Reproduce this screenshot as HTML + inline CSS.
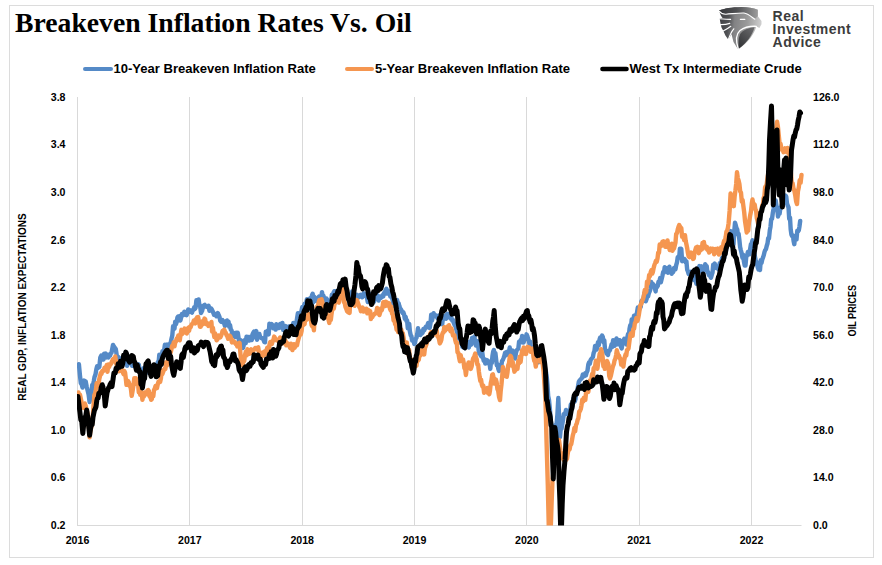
<!DOCTYPE html>
<html><head><meta charset="utf-8"><style>
html,body{margin:0;padding:0;background:#fff;}
svg{display:block;}
text{font-family:"Liberation Sans",sans-serif;font-weight:bold;}
</style></head><body>
<svg width="882" height="565" viewBox="0 0 882 565">
<defs>
<linearGradient id="lg1" gradientUnits="userSpaceOnUse" x1="719" y1="20" x2="762" y2="24">
<stop offset="0" stop-color="#3f4044"/><stop offset="0.22" stop-color="#505154"/><stop offset="0.36" stop-color="#828284"/><stop offset="0.65" stop-color="#9a9a9a"/><stop offset="1" stop-color="#d2d2d2"/>
</linearGradient>
<linearGradient id="lg3" gradientUnits="userSpaceOnUse" x1="719" y1="10" x2="758" y2="12">
<stop offset="0" stop-color="#35363a"/><stop offset="0.45" stop-color="#4e4f52"/><stop offset="1" stop-color="#9c9c9c"/>
</linearGradient>
<linearGradient id="lg2" gradientUnits="userSpaceOnUse" x1="739" y1="45" x2="755" y2="28">
<stop offset="0" stop-color="#36373a"/><stop offset="1" stop-color="#6c6c6e"/>
</linearGradient>
<clipPath id="plotclip"><rect x="77" y="90" width="805" height="435.6"/></clipPath>
</defs>
<rect x="9.5" y="5.5" width="864" height="552" fill="#fff" stroke="#dcdcdc" stroke-width="1"/>
<text x="15" y="32" style="font-family:'Liberation Serif',serif;font-weight:bold;font-size:27.7px" fill="#000">Breakeven Inflation Rates Vs. Oil</text>
<!-- logo -->
<g>
<path d="M719.2,10.4 C724,8.6 732,7.2 741.5,7 C748,7 753,8 757.8,9.8 L757.8,16.2 L761.5,21 L761.5,24.2 L759.4,27.9 L756.2,26.3 C755,33 748,43 738,49.3 L733.5,42 L731.5,34 L728.4,39.8 L725.4,35.4 L723.4,30.9 L721.5,27.5 L720.5,23.5 L719.8,19.3 L719.4,18.6 L722.6,18.1 C721,16 719.8,13.5 719.2,10.4 Z" fill="url(#lg1)"/>
<path d="M719.2,10.4 C724,8.6 732,7.2 741.5,7 C748,7 753,8 757.8,9.8 L757.8,16.2 C756,17.6 755.5,18.5 754.6,19 C751,16.5 748,13.5 744,13 C738,12.8 731,14 726,14.2 C723,14.3 721,13.5 719.4,11.2 Z" fill="url(#lg3)"/>
<g fill="none" stroke="#fff" stroke-width="1.15" stroke-linecap="round">
<path d="M719.4,11.4 C721,13.5 723,14.3 726,14.2 C731,14 738,12.8 744,13 C748,13.5 751,16.5 754.8,19.2"/>
<path d="M718.8,18.7 C723,19 727,19.3 730.6,19.4"/>
<path d="M720,24.6 C724,24.7 727,24.3 729.8,23.4"/>
<path d="M722.3,31.6 C725,30.2 728,28.5 730.8,26.3"/>
<path d="M728,40.6 C729.5,36 731,32 733.8,28.8"/>
<path d="M756.4,26.3 C751,26 744,27.5 740,30.5 C736,34 735.4,40 738.3,49" stroke-width="1.3"/>
<path d="M740.4,19.4 L744.8,19.4" stroke-width="1.2"/>
</g>
<path d="M754.6,27.2 C748,27.6 742.5,30.5 740.2,34 C738.2,38 738.2,44 739,48.6 C746,43 752,36 754.6,27.2 Z" fill="url(#lg2)"/>
</g>
<g fill="#3c3c3c" style="font-size:14px;letter-spacing:0.45px">
<text x="772.6" y="20.6">Real</text>
<text x="772.6" y="34.1">Investment</text>
<text x="772.6" y="47.1">Advice</text>
</g>
<!-- legend -->
<g stroke-width="4" stroke-linecap="round">
<line x1="85" y1="69" x2="111" y2="69" stroke="#558ac7"/>
<line x1="347" y1="69" x2="372" y2="69" stroke="#f59650"/>
<line x1="602.5" y1="69" x2="626.5" y2="69" stroke="#000" stroke-width="4.6"/>
</g>
<g style="font-size:13.05px" fill="#000">
<text x="113.5" y="72.8">10-Year Breakeven Inflation Rate</text>
<text x="375" y="72.8">5-Year Breakeven Inflation Rate</text>
<text x="629.5" y="72.8">West Tx Intermediate Crude</text>
</g>
<!-- grid -->
<g stroke="#d9d9d9" stroke-width="1"><line x1="77.5" y1="97" x2="77.5" y2="525" /><line x1="189.5" y1="97" x2="189.5" y2="525" /><line x1="302.5" y1="97" x2="302.5" y2="525" /><line x1="414.5" y1="97" x2="414.5" y2="525" /><line x1="526.5" y1="97" x2="526.5" y2="525" /><line x1="639.5" y1="97" x2="639.5" y2="525" /><line x1="751.5" y1="97" x2="751.5" y2="525" /><line x1="77" y1="525.5" x2="801.5" y2="525.5"/></g>
<g style="font-size:10.6px" fill="#000"><text x="65.5" y="100.8" text-anchor="end">3.8</text><text x="65.5" y="148.4" text-anchor="end">3.4</text><text x="65.5" y="195.9" text-anchor="end">3.0</text><text x="65.5" y="243.5" text-anchor="end">2.6</text><text x="65.5" y="291.0" text-anchor="end">2.2</text><text x="65.5" y="338.6" text-anchor="end">1.8</text><text x="65.5" y="386.1" text-anchor="end">1.4</text><text x="65.5" y="433.7" text-anchor="end">1.0</text><text x="65.5" y="481.2" text-anchor="end">0.6</text><text x="65.5" y="528.8" text-anchor="end">0.2</text><text x="813" y="100.8">126.0</text><text x="813" y="148.4">112.0</text><text x="813" y="195.9">98.0</text><text x="813" y="243.5">84.0</text><text x="813" y="291.0">70.0</text><text x="813" y="338.6">56.0</text><text x="813" y="386.1">42.0</text><text x="813" y="433.7">28.0</text><text x="813" y="481.2">14.0</text><text x="813" y="528.8">0.0</text><text x="77.5" y="543.7" text-anchor="middle">2016</text><text x="189.8" y="543.7" text-anchor="middle">2017</text><text x="302.2" y="543.7" text-anchor="middle">2018</text><text x="414.5" y="543.7" text-anchor="middle">2019</text><text x="526.8" y="543.7" text-anchor="middle">2020</text><text x="639.1" y="543.7" text-anchor="middle">2021</text><text x="751.5" y="543.7" text-anchor="middle">2022</text></g>
<text transform="translate(26,307) rotate(-90)" text-anchor="middle" style="font-size:10px" fill="#000">REAL GDP, INFLATION EXPECTATIONS</text>
<text transform="translate(855.6,310.7) rotate(-90) scale(0.8,1)" text-anchor="middle" style="font-size:11.4px" fill="#000">OIL PRICES</text>
<!-- series -->
<g clip-path="url(#plotclip)" fill="none" stroke-width="4.4" stroke-linejoin="round" stroke-linecap="round">
<polyline stroke="#558ac7" points="78.9,364.3 79.9,375.0 80.8,383.1 81.8,384.7 82.5,387.6 83.2,383.4 84.0,380.6 84.7,381.8 85.7,381.5 86.7,386.7 87.7,390.7 88.6,394.5 89.6,402.0 90.5,394.7 91.5,392.5 92.2,385.0 93.0,385.2 93.8,381.2 94.5,377.0 95.5,374.4 96.4,369.0 97.1,366.2 97.8,368.0 98.6,367.3 99.3,367.0 100.3,357.5 101.3,355.6 102.0,356.4 102.8,355.4 103.5,359.6 104.2,353.6 104.9,354.4 105.7,353.7 106.4,357.4 107.1,354.6 107.8,355.3 108.5,357.4 109.3,354.4 110.0,355.6 110.8,353.5 111.5,352.8 112.2,349.3 113.0,344.9 114.0,346.7 114.9,347.8 115.8,349.0 116.8,355.6 117.6,357.3 118.4,357.0 119.1,359.1 119.9,358.5 120.7,358.5 121.4,361.5 122.1,358.9 122.8,359.8 123.6,361.2 124.3,357.0 125.0,360.0 125.7,359.3 126.4,359.3 127.1,365.8 127.9,360.9 128.6,363.1 129.3,363.3 130.0,362.0 130.7,361.7 131.4,359.0 132.1,365.7 132.9,362.7 133.6,365.9 134.3,361.3 135.0,365.0 135.8,364.5 136.5,369.3 137.2,370.4 138.0,364.1 138.8,364.7 139.5,368.6 140.2,369.0 140.9,371.4 141.7,370.5 142.4,370.6 143.2,371.4 143.9,368.1 144.7,372.1 145.4,373.4 146.2,369.5 146.9,367.0 147.7,368.7 148.4,372.5 149.2,370.6 149.9,365.7 150.6,369.3 151.3,366.5 152.0,368.1 152.7,367.3 153.5,367.4 154.2,370.6 154.9,367.4 155.6,369.1 156.3,364.9 157.0,364.7 157.8,362.0 158.6,362.6 159.3,354.6 160.1,358.4 160.9,357.0 161.7,356.1 162.5,351.2 163.3,354.2 164.1,350.3 164.9,344.8 165.7,349.0 166.4,347.5 167.2,344.6 167.9,344.8 168.6,344.8 169.3,347.3 170.1,343.5 170.8,342.3 171.6,338.3 172.3,335.5 173.1,326.1 173.8,326.7 174.5,328.6 175.2,321.6 176.0,324.1 176.7,321.8 177.4,317.5 178.1,316.5 178.9,316.5 179.6,316.0 180.4,320.5 181.2,317.3 181.9,313.9 182.7,314.5 183.5,315.0 184.3,311.7 185.1,314.1 185.8,312.4 186.6,315.2 187.4,313.0 188.2,309.4 189.0,311.8 189.7,310.3 190.5,310.4 191.3,312.0 192.0,312.6 192.8,309.9 193.5,309.9 194.2,307.2 194.9,309.0 195.6,307.7 196.4,300.2 197.1,302.4 197.8,304.5 198.6,299.4 199.3,304.4 200.0,305.3 201.0,313.0 202.0,311.1 202.9,307.7 203.9,305.3 204.7,304.8 205.5,306.5 206.2,306.5 207.0,306.9 207.8,307.2 208.6,305.7 209.4,310.7 210.1,310.6 210.9,308.3 211.7,309.2 212.5,310.9 213.3,312.8 214.0,314.7 214.8,314.0 215.6,314.0 216.4,316.3 217.2,314.5 217.9,313.1 218.7,315.2 219.5,317.0 220.3,320.7 221.1,321.8 221.8,320.8 222.6,320.2 223.4,322.8 224.1,323.1 224.9,326.0 225.6,324.8 226.3,320.9 227.0,320.6 227.8,323.7 228.5,321.6 229.2,326.7 230.0,325.0 230.8,329.5 231.5,330.2 232.3,333.8 233.1,332.5 233.9,336.1 234.7,335.4 235.4,337.0 236.2,332.7 237.0,334.5 237.8,332.8 238.6,338.1 239.3,343.5 240.1,340.0 240.9,340.3 241.9,341.3 243.0,348.0 243.9,344.6 244.9,340.0 245.7,343.2 246.5,336.7 247.2,340.9 248.0,337.0 248.8,338.1 249.6,340.5 250.3,338.5 251.1,336.5 251.8,340.0 252.6,334.2 253.3,332.7 254.1,331.5 254.8,337.4 255.6,332.3 256.3,331.1 257.1,339.7 257.8,335.0 258.5,336.1 259.3,333.9 260.1,336.9 260.8,337.6 261.6,338.2 262.4,338.1 263.4,339.6 264.3,342.0 265.0,342.3 265.8,331.6 266.5,333.3 267.2,332.3 267.9,330.4 268.7,334.4 269.4,323.6 270.2,327.4 271.0,326.4 271.7,324.1 272.5,325.1 273.2,328.2 274.0,326.4 274.8,327.2 275.6,329.6 276.3,324.3 277.1,326.3 277.9,325.4 278.6,328.1 279.4,327.2 280.1,323.9 280.9,324.5 281.7,327.7 282.4,323.0 283.2,330.1 283.9,326.4 284.7,326.4 285.5,326.1 286.3,327.1 287.0,328.5 287.8,330.8 288.6,326.4 289.4,326.4 290.2,326.3 290.9,329.1 291.7,325.8 292.5,328.4 293.3,323.0 294.1,328.1 294.8,323.9 295.6,326.5 296.4,322.5 297.1,318.0 297.9,313.1 298.6,317.4 299.3,314.7 300.1,313.2 300.8,314.9 301.6,310.2 302.3,307.0 303.1,307.0 303.8,306.9 304.6,303.7 305.3,304.1 306.1,303.1 306.9,299.2 307.6,303.4 308.4,299.6 309.1,301.1 309.8,298.5 310.6,299.9 311.3,299.0 312.0,295.3 312.7,293.8 313.4,302.3 314.2,296.7 314.9,299.2 315.7,300.8 316.5,300.6 317.3,298.3 318.1,297.6 318.9,296.7 319.7,301.2 320.5,298.9 321.2,297.8 322.0,292.1 322.8,296.7 323.5,295.8 324.2,301.6 325.0,300.1 325.7,300.6 326.5,298.6 327.3,299.8 328.0,301.0 328.8,303.8 329.6,302.5 330.4,301.5 331.2,301.1 331.9,294.6 332.7,297.2 333.5,292.8 334.3,291.2 335.1,291.3 335.8,296.0 336.6,291.5 337.4,290.9 338.2,290.2 339.0,289.6 339.7,288.7 340.5,293.2 341.3,288.9 342.1,292.7 342.9,291.5 343.6,290.6 344.4,293.1 345.2,290.9 346.0,291.5 346.7,293.6 347.5,294.2 348.2,294.2 349.0,294.7 349.8,299.2 350.6,299.9 351.3,299.2 352.1,291.5 352.9,296.7 353.7,300.9 354.5,297.7 355.2,294.4 356.0,295.0 356.8,294.7 357.6,297.5 358.4,297.6 359.1,296.8 359.9,295.1 360.7,294.7 361.5,295.0 362.3,297.2 363.0,295.1 363.8,293.3 364.6,295.7 365.4,294.3 366.2,295.8 366.9,297.1 367.7,302.0 368.5,296.7 369.3,293.7 370.1,298.7 370.8,297.6 371.6,299.0 372.4,298.6 373.2,302.0 374.0,301.7 374.7,298.2 375.5,297.2 376.3,298.6 377.1,294.8 377.9,297.7 378.6,300.6 379.4,296.4 380.2,296.7 381.0,297.7 381.8,296.9 382.5,295.4 383.3,296.3 384.1,292.8 384.9,292.1 385.7,290.0 386.4,288.7 387.2,293.6 388.0,290.9 388.8,291.2 389.5,292.4 390.3,296.5 391.0,293.6 391.8,296.7 392.9,301.1 393.6,305.8 394.3,303.3 395.0,300.6 395.7,300.7 396.4,305.2 397.1,299.9 397.8,303.1 398.6,303.1 399.4,306.2 400.1,308.3 400.9,309.4 401.7,310.9 402.5,313.0 403.3,312.3 404.0,314.1 404.8,318.7 405.6,316.7 406.3,320.7 407.1,320.4 407.8,328.3 408.5,326.4 409.2,323.8 409.9,331.5 410.7,335.3 411.4,336.1 412.1,340.5 412.9,340.3 413.6,341.0 414.3,343.9 415.0,342.9 415.8,338.6 416.5,337.8 417.2,334.2 418.0,328.3 418.8,334.4 419.5,331.1 420.3,335.0 421.1,332.3 421.9,333.4 422.7,332.6 423.4,328.9 424.2,330.3 425.0,328.4 425.8,326.8 426.6,327.4 427.3,325.7 428.1,323.1 428.9,324.5 429.7,327.9 430.5,323.2 431.2,314.7 432.0,320.5 432.8,316.7 433.6,313.2 434.4,316.1 435.1,315.2 435.9,315.4 436.7,316.7 437.5,318.1 438.3,317.4 439.0,315.4 439.8,319.8 440.6,320.6 441.4,321.1 442.2,324.2 442.9,318.4 443.7,316.0 444.5,318.6 445.3,316.9 446.1,318.7 446.8,314.1 447.6,313.7 448.4,314.7 449.2,317.3 450.0,317.0 450.7,318.8 451.5,317.8 452.3,320.6 453.1,320.1 453.8,322.9 454.6,324.9 455.3,326.0 456.1,328.4 456.9,331.8 457.7,334.4 458.4,336.7 459.2,338.9 460.0,340.0 460.8,339.3 461.6,340.3 462.3,346.7 463.1,346.3 463.9,347.8 464.6,348.1 465.3,344.8 466.0,347.1 466.8,346.0 467.5,345.4 468.2,346.0 468.9,347.5 469.7,341.8 470.5,343.8 471.2,344.6 472.0,338.0 472.8,337.8 473.6,338.8 474.4,336.6 475.1,341.8 475.9,345.6 476.7,341.7 477.5,341.3 478.3,346.6 479.0,353.4 479.8,353.5 480.6,355.3 481.4,356.4 482.2,351.8 482.9,357.3 483.7,360.7 484.5,359.2 485.3,363.6 486.0,362.4 486.8,360.1 487.5,360.6 488.3,363.1 489.3,361.5 490.3,368.9 491.0,361.8 491.8,363.0 492.5,355.5 493.2,351.4 493.9,350.0 494.6,358.6 495.4,353.1 496.1,359.2 496.8,365.3 497.6,364.2 498.3,368.8 499.0,370.9 499.8,370.1 500.5,366.7 501.2,366.7 502.0,361.1 502.8,360.0 503.6,358.0 504.3,356.0 505.1,352.8 505.9,355.3 506.7,352.0 507.4,354.6 508.2,352.7 508.9,352.5 509.7,347.5 510.5,354.6 511.3,352.4 512.0,353.4 512.8,350.5 513.6,355.3 514.4,353.5 515.2,358.5 515.9,353.1 516.7,350.3 517.5,349.5 518.3,348.7 519.1,341.6 519.8,342.7 520.6,340.0 521.4,341.7 522.1,335.9 522.8,342.6 523.6,342.6 524.3,339.7 525.0,338.3 525.8,338.7 526.5,334.3 527.3,335.9 528.0,338.5 528.8,340.7 529.5,344.1 530.2,341.7 530.9,347.6 531.7,346.8 532.4,347.2 533.1,349.5 533.9,349.0 534.7,351.1 535.4,355.7 536.2,357.2 537.0,357.3 537.7,357.8 538.5,362.4 539.2,360.3 539.9,359.2 540.6,359.2 541.3,358.7 542.1,359.4 542.8,359.2 543.6,360.0 544.4,363.2 545.2,369.7 546.0,372.0 546.8,377.5 547.5,385.3 548.2,396.1 549.0,400.0 549.8,407.9 550.7,420.0 551.5,425.0 552.3,429.3 553.2,437.5 554.0,438.0 554.8,434.8 555.7,424.9 556.5,425.0 557.4,414.6 558.3,398.0 559.1,417.0 560.0,437.0 560.8,427.8 561.5,428.8 562.2,424.6 563.0,420.0 563.8,414.3 564.5,413.5 565.2,413.9 566.0,410.0 566.8,413.9 567.6,413.7 568.4,414.3 569.2,414.4 570.0,412.0 570.8,404.5 571.6,406.2 572.4,406.5 573.2,398.5 574.0,402.0 574.8,401.4 575.5,399.2 576.2,392.6 577.0,392.0 577.9,387.1 578.8,381.9 579.7,380.3 580.5,379.5 581.3,378.6 582.0,377.9 582.8,374.6 583.6,376.4 584.4,376.2 585.2,373.2 585.9,375.3 586.7,372.5 587.5,370.6 588.3,364.5 589.1,362.3 589.8,363.8 590.6,360.0 591.4,358.9 592.1,358.1 592.9,357.0 593.6,353.1 594.4,351.1 595.1,345.9 595.8,346.2 596.6,349.6 597.3,347.2 598.0,342.1 598.8,345.1 599.5,339.7 600.2,337.5 601.2,337.8 602.1,335.6 602.8,336.8 603.5,342.2 604.3,340.3 605.0,349.2 605.8,350.1 606.5,353.5 607.2,351.3 608.0,355.0 608.7,350.9 609.5,351.0 610.2,349.3 610.9,347.2 611.6,344.2 612.3,346.9 613.1,340.2 613.8,343.3 614.8,345.7 615.8,342.5 616.5,338.5 617.3,339.5 618.0,344.4 618.8,340.6 619.5,340.1 620.2,340.4 621.0,346.6 621.7,348.4 622.7,342.2 623.6,340.6 624.3,338.8 625.0,340.8 625.8,341.7 626.5,344.5 627.2,338.2 628.0,334.1 628.8,336.8 629.5,328.9 630.2,325.3 631.0,327.4 631.7,319.5 632.4,321.1 633.2,321.3 634.0,315.7 634.7,316.5 635.5,318.0 636.3,315.3 637.0,312.5 637.8,307.5 638.5,309.6 639.2,309.5 639.9,307.2 640.7,307.0 641.4,301.2 642.1,301.7 642.8,299.5 643.5,298.9 644.3,293.2 645.0,295.8 645.8,301.2 646.6,299.0 647.4,295.2 648.1,296.4 648.9,293.1 649.7,291.4 650.4,289.1 651.2,282.0 651.9,285.4 652.6,283.7 653.4,284.7 654.1,285.2 654.9,288.2 655.6,291.4 656.3,285.8 657.0,287.0 657.8,285.8 658.5,281.7 659.3,282.0 660.1,278.1 660.8,282.4 661.6,279.2 662.4,275.9 663.2,272.0 664.0,272.4 664.7,267.1 665.5,269.4 666.3,268.1 667.1,270.7 667.9,272.8 668.6,269.4 669.4,266.7 670.2,272.0 671.0,270.8 671.7,273.8 672.5,270.0 673.2,272.1 674.0,268.1 674.8,268.7 675.5,269.1 676.2,265.2 677.0,262.3 677.7,257.2 678.5,256.6 679.2,257.5 679.9,248.6 680.6,249.8 681.3,248.9 682.1,261.2 682.8,258.4 683.5,260.4 684.2,258.8 685.0,259.8 685.7,262.3 686.4,261.3 687.2,269.9 687.9,271.4 688.6,273.9 689.4,271.9 690.2,272.1 690.9,271.7 691.7,275.0 692.5,272.0 693.3,273.9 694.1,280.1 694.8,276.9 695.6,279.8 696.4,283.7 697.1,278.1 697.9,273.6 698.6,270.3 699.4,266.1 700.1,269.6 700.8,271.1 701.6,266.3 702.3,270.0 703.0,271.7 703.8,267.3 704.5,269.6 705.2,264.2 705.9,265.7 706.7,266.0 707.4,272.0 708.1,272.0 708.8,275.0 709.5,273.8 710.3,276.4 711.0,277.8 711.7,275.2 712.5,272.7 713.2,264.7 713.9,266.1 714.7,263.5 715.5,267.0 716.2,267.9 717.0,266.4 717.8,268.1 718.9,270.0 719.7,263.3 720.5,268.7 721.2,262.3 722.0,258.1 722.8,258.4 723.6,260.0 724.4,256.6 725.1,254.0 725.9,251.1 726.7,246.7 727.5,245.0 728.3,238.0 729.0,237.4 729.8,235.1 730.6,231.1 731.3,236.1 732.0,239.1 732.8,238.8 733.5,244.7 734.2,232.2 735.0,222.8 735.7,224.9 736.5,228.2 737.2,229.4 737.9,234.5 738.6,233.8 739.3,239.2 740.1,246.9 740.8,250.0 741.6,253.1 742.4,257.7 743.1,254.6 743.9,261.4 744.7,265.6 745.5,265.5 746.3,256.0 747.0,255.9 747.8,252.1 748.6,253.9 749.4,254.2 750.2,248.5 750.9,244.3 751.7,243.4 752.5,240.3 753.3,244.4 754.1,251.1 754.8,256.1 755.6,259.7 756.4,261.7 757.1,264.5 757.8,267.5 758.6,269.6 759.3,269.5 760.0,270.0 760.8,260.1 761.5,263.1 762.2,259.8 763.0,257.6 763.7,255.4 764.5,252.0 765.2,250.1 766.0,249.1 766.7,246.0 767.5,243.5 768.2,238.1 769.0,238.4 769.8,230.4 770.5,226.8 771.2,219.3 772.0,218.9 772.7,213.7 773.5,209.0 774.2,202.7 774.9,203.3 775.7,200.4 776.5,206.0 777.2,207.7 778.0,216.6 778.8,213.1 779.6,213.7 780.4,208.0 781.1,207.2 781.9,204.3 782.7,205.3 783.4,200.9 784.2,199.6 784.9,197.9 785.6,195.6 786.3,196.9 787.0,203.5 787.8,205.9 788.5,207.2 789.2,218.9 790.0,217.6 790.7,229.4 791.4,234.5 792.1,236.0 792.8,235.3 793.6,241.0 794.3,244.2 795.0,236.7 795.8,237.3 796.5,239.5 797.3,230.6 798.0,231.4 798.8,230.3 799.5,226.3 800.2,220.9"/>
<polyline stroke="#f59650" points="78.5,392.5 79.3,400.0 80.0,394.8 80.8,398.4 81.5,401.8 82.3,403.6 83.0,407.7 83.8,408.0 84.8,403.5 85.7,406.0 86.4,408.9 87.2,412.0 87.9,415.1 88.6,421.7 89.6,437.3 90.3,431.3 91.0,428.2 91.8,424.9 92.5,421.7 93.5,405.8 94.5,394.5 95.2,393.6 96.0,389.2 96.7,383.1 97.4,386.7 98.3,385.8 99.3,379.0 100.0,376.0 100.8,373.1 101.5,373.7 102.2,371.0 103.0,371.2 103.8,370.4 104.5,367.8 105.3,370.0 106.1,369.2 106.8,364.9 107.5,371.8 108.3,364.5 109.0,367.2 109.8,365.2 110.5,364.3 111.2,363.4 112.0,361.4 113.0,359.3 113.9,358.5 114.6,361.4 115.3,356.4 116.1,363.0 116.8,365.3 117.5,365.4 118.2,365.5 118.9,371.2 119.6,365.8 120.3,368.8 121.0,364.8 121.7,371.0 122.9,372.5 123.6,374.3 124.3,371.0 125.1,372.7 125.8,378.4 126.5,384.9 127.3,381.8 128.1,381.0 128.8,382.3 129.5,385.8 130.2,385.1 131.0,389.5 131.7,395.9 132.6,390.8 133.6,384.2 134.3,378.2 135.1,383.6 135.8,378.1 136.5,382.3 137.2,384.2 138.0,383.0 138.8,392.2 139.5,390.0 140.2,394.7 140.9,393.3 141.7,392.2 142.4,399.8 143.1,396.0 143.9,396.4 144.6,392.5 145.3,393.9 146.0,393.3 146.8,394.1 147.5,390.5 148.2,390.0 148.9,391.0 149.6,396.6 150.4,396.3 151.1,399.8 151.8,399.2 152.6,393.8 153.3,396.2 154.0,390.0 154.8,388.5 155.5,386.0 156.2,388.4 157.0,388.0 157.8,384.1 158.6,381.4 159.3,381.6 160.1,381.9 160.9,378.4 161.7,370.9 162.4,374.0 163.2,371.8 163.9,369.9 164.7,368.6 165.4,368.9 166.2,362.1 166.9,365.6 167.7,362.8 168.5,359.2 169.2,357.4 170.0,353.8 170.8,352.0 171.6,348.4 172.3,345.5 173.1,345.5 173.8,342.3 174.5,346.4 175.2,342.7 176.0,341.3 176.7,338.4 177.5,338.8 178.3,335.4 179.0,337.3 179.8,340.3 180.6,334.5 181.4,329.8 182.2,334.0 182.9,333.3 183.7,330.3 184.5,328.6 185.3,330.2 186.0,331.5 186.8,333.5 187.5,331.0 188.3,327.7 189.1,330.9 189.9,326.8 190.6,327.3 191.4,324.8 192.2,323.8 193.0,323.4 193.8,320.5 194.5,322.4 195.3,323.4 196.1,318.9 197.1,317.4 198.1,317.0 199.1,322.3 200.0,326.7 200.7,326.7 201.4,323.7 202.2,324.6 202.9,320.9 203.7,321.8 204.5,318.6 205.2,319.3 206.0,324.1 206.8,322.8 207.6,324.5 208.4,325.9 209.1,323.9 209.9,324.0 210.7,323.8 211.4,321.9 212.1,331.6 212.9,327.9 213.6,332.5 214.3,337.0 215.1,333.4 215.8,336.6 216.6,340.3 217.3,339.6 218.1,337.2 218.8,335.5 219.5,336.4 220.3,337.4 221.1,335.7 221.8,333.8 222.6,330.8 223.4,330.6 224.2,329.6 225.0,331.6 225.7,332.7 226.5,335.1 227.3,336.4 228.1,338.7 228.8,336.7 229.6,335.5 230.3,336.4 231.1,338.4 231.9,342.4 232.7,340.3 233.4,341.3 234.2,342.2 235.0,342.3 235.8,344.1 236.6,343.4 237.3,346.4 238.1,345.8 238.9,344.2 239.6,342.9 240.3,352.1 241.1,362.2 241.8,357.6 242.5,365.0 242.5,365.0 243.3,362.0 244.2,361.0 245.0,355.0 245.8,351.7 246.6,355.4 247.4,349.3 248.1,349.7 248.9,352.8 249.7,353.7 250.5,351.1 251.3,349.4 252.0,352.8 252.8,351.3 253.6,349.8 254.4,349.4 255.2,348.0 255.9,349.3 256.7,347.9 257.5,347.8 258.2,347.4 258.9,352.0 259.7,353.2 260.4,353.7 261.1,354.4 261.9,356.4 262.6,352.4 263.3,355.6 264.1,353.7 264.9,351.2 265.6,354.3 266.4,350.6 267.2,347.8 268.0,352.3 268.8,350.2 269.5,344.5 270.3,341.9 271.1,343.9 271.9,344.0 272.7,340.9 273.4,340.0 274.2,336.6 275.0,338.1 275.7,340.1 276.4,339.5 277.2,340.5 277.9,340.0 278.6,341.8 279.4,339.7 280.1,337.4 280.9,343.9 281.7,342.4 282.4,340.8 283.2,340.2 283.9,343.2 284.7,340.0 285.5,340.5 286.3,345.3 287.0,342.8 287.8,344.8 288.6,343.9 289.4,346.1 290.1,347.9 290.9,343.7 291.6,347.8 292.4,350.1 293.1,347.3 293.9,344.2 294.6,347.8 295.4,345.9 296.2,344.8 297.0,345.2 297.7,341.8 298.5,339.0 299.3,336.1 300.1,329.1 300.8,334.5 301.6,331.1 302.3,324.5 303.1,325.3 303.8,323.3 304.6,324.0 305.3,317.6 306.1,318.6 306.9,319.6 307.7,317.1 308.4,313.8 309.2,316.4 310.0,314.7 310.8,318.7 311.6,325.2 312.3,326.4 313.1,323.2 313.9,330.3 314.6,319.6 315.4,318.5 316.1,312.3 316.8,307.0 317.9,306.4 318.6,302.6 319.4,299.9 320.1,301.6 320.8,300.6 321.6,299.2 322.3,301.8 323.1,307.1 323.8,306.4 324.5,308.9 325.2,308.4 326.0,309.4 326.7,314.2 327.6,316.6 328.6,320.0 329.3,322.9 330.1,315.8 330.8,320.0 331.5,314.2 332.2,309.8 333.0,308.8 333.8,308.7 334.5,304.5 335.2,301.6 335.9,302.7 336.7,298.2 337.4,300.6 338.1,301.8 338.9,302.5 339.6,297.5 340.3,298.6 341.0,297.6 341.8,294.7 342.5,288.9 343.2,292.8 343.9,302.2 344.6,302.2 345.4,306.6 346.1,308.4 347.1,311.3 348.1,312.3 348.8,310.3 349.6,312.9 350.3,300.4 351.0,302.5 351.7,302.2 352.4,302.4 353.2,303.5 353.9,304.5 354.7,305.8 355.5,301.9 356.2,300.0 357.0,300.1 357.8,302.5 358.6,304.8 359.4,307.2 360.1,308.1 360.9,311.2 361.7,308.4 362.5,307.5 363.3,311.6 364.2,311.3 365.0,309.5 365.8,310.3 366.5,308.8 367.3,313.3 368.0,309.8 368.8,311.2 369.5,312.3 370.2,311.1 370.9,319.1 371.7,315.8 372.4,317.1 373.2,314.9 374.0,314.6 374.7,313.7 375.5,313.5 376.3,312.3 377.1,308.0 377.9,309.4 378.6,313.6 379.4,315.0 380.2,312.3 381.0,308.6 381.8,310.2 382.5,307.3 383.3,302.1 384.1,306.4 384.8,304.6 385.6,301.7 386.3,305.7 387.0,302.5 387.7,303.4 388.4,305.3 389.2,303.3 389.9,308.4 390.6,310.3 391.4,306.7 392.1,313.7 392.9,314.7 393.6,320.6 394.4,316.6 395.1,324.2 395.8,324.5 396.6,329.6 397.4,327.1 398.1,332.0 398.9,330.9 399.7,332.3 400.5,332.2 401.3,329.6 402.0,333.1 402.8,333.2 403.6,338.1 404.4,345.5 405.2,342.6 405.9,343.5 406.7,342.5 407.5,347.8 408.3,354.4 409.1,349.6 409.8,358.5 410.6,359.9 411.4,359.5 412.1,361.6 412.9,361.7 413.6,365.2 414.3,367.3 415.0,362.0 415.8,365.0 416.5,365.7 417.2,359.5 418.0,360.6 418.8,359.8 419.5,354.3 420.3,355.6 421.1,353.7 421.9,350.0 422.7,350.2 423.4,352.0 424.2,354.5 425.0,347.8 425.8,346.0 426.6,344.0 427.3,337.2 428.1,340.5 428.9,338.1 429.7,335.0 430.5,333.0 431.2,332.0 432.0,335.3 432.8,334.2 433.6,332.4 434.4,334.3 435.1,331.3 435.9,331.1 436.7,330.3 437.5,336.3 438.3,337.0 439.0,339.2 439.8,343.4 440.6,342.0 441.3,340.1 442.1,334.7 442.8,332.7 443.5,332.3 444.3,327.2 445.1,330.8 445.8,327.7 446.6,328.9 447.4,326.4 448.2,328.9 449.0,325.2 449.7,328.1 450.5,331.2 451.3,328.4 452.1,330.9 452.9,335.4 453.6,334.9 454.4,335.3 455.2,340.0 456.0,342.9 456.8,342.3 457.5,352.3 458.3,352.7 459.1,357.5 459.9,361.3 460.7,355.2 461.4,359.0 462.2,360.0 463.0,359.5 463.7,362.9 464.4,368.2 465.2,369.2 465.9,375.0 466.9,367.3 467.9,365.0 468.6,362.4 469.4,365.5 470.1,365.9 470.8,368.9 471.6,366.6 472.3,362.2 473.1,358.5 473.8,357.3 474.5,355.9 475.2,353.5 476.0,357.8 476.7,359.2 477.4,364.6 478.1,364.6 478.9,371.7 479.6,376.7 480.3,380.8 481.1,379.8 481.8,384.5 482.5,386.4 483.3,385.7 484.1,392.7 484.8,391.1 485.6,391.0 486.4,388.4 487.1,388.1 487.9,392.9 488.6,392.3 489.3,394.2 490.0,390.3 490.8,383.0 491.5,380.0 492.2,374.8 492.9,374.3 493.7,378.4 494.4,383.6 495.2,380.6 495.9,379.6 496.6,382.1 497.4,389.1 498.1,390.3 499.1,397.2 500.0,400.1 500.7,390.9 501.4,385.0 502.2,376.4 502.9,367.0 503.7,370.3 504.5,374.4 505.2,371.2 506.0,376.4 506.8,376.7 507.5,372.4 508.2,365.3 509.0,363.4 509.7,357.3 510.5,355.9 511.3,357.4 512.0,365.9 512.8,362.2 513.6,367.0 514.4,371.7 515.2,370.4 515.9,366.8 516.7,366.3 517.5,368.9 518.3,360.7 519.1,363.3 519.8,356.6 520.6,362.0 521.4,355.3 522.2,350.2 523.0,353.9 523.7,347.5 524.5,351.3 525.3,351.4 526.1,354.0 526.9,348.7 527.6,347.0 528.4,347.1 529.2,347.5 529.9,349.4 530.7,351.7 531.4,349.8 532.1,351.4 532.8,348.6 533.5,357.0 534.3,361.1 535.0,361.1 535.8,366.6 536.6,361.5 537.3,361.5 538.1,359.7 538.9,361.1 539.6,361.1 540.3,361.8 541.1,352.8 541.8,353.4 542.7,364.1 543.6,371.8 544.5,385.0 545.5,400.0 546.5,440.0 547.8,485.0 548.8,527.0 549.8,525.2 550.8,527.0 551.6,503.0 552.5,480.0 553.5,471.2 554.5,460.0 555.3,453.8 556.2,451.2 557.0,448.0 558.0,447.5 559.0,440.0 559.8,445.8 560.5,450.8 561.2,454.5 562.0,458.0 562.8,457.9 563.6,459.9 564.4,460.5 565.2,459.6 566.0,460.0 567.0,458.6 568.0,452.0 568.8,449.6 569.6,449.5 570.4,444.8 571.2,444.3 572.0,440.0 572.8,435.3 573.6,432.6 574.4,428.0 575.2,431.1 576.0,425.0 576.8,423.5 577.6,419.9 578.4,418.2 579.2,411.7 580.0,411.0 580.8,409.0 581.5,405.3 582.3,399.6 583.1,401.5 583.8,397.8 584.6,397.8 585.3,400.0 586.0,393.0 586.8,391.8 587.5,392.0 588.3,391.8 589.1,386.5 589.8,380.4 590.6,381.7 591.4,378.4 592.1,374.0 592.9,377.9 593.6,368.3 594.4,368.6 595.2,365.5 595.9,360.8 596.7,363.4 597.4,368.7 598.2,362.8 598.9,359.1 599.7,353.5 600.4,353.3 601.1,349.2 601.9,352.3 602.6,356.8 603.4,366.3 604.1,364.7 604.8,368.9 605.5,366.9 606.3,366.1 607.0,360.9 607.8,362.9 608.5,364.6 609.2,375.9 610.0,378.4 610.9,375.5 611.9,370.7 612.8,366.7 613.9,363.9 614.6,360.2 615.3,358.9 616.1,355.1 616.8,350.3 617.5,352.9 618.2,355.4 619.0,355.6 619.7,358.1 620.4,358.6 621.2,364.6 621.9,361.8 622.6,363.9 623.4,366.6 624.1,360.7 624.9,356.8 625.6,354.2 626.3,355.6 627.0,350.0 627.8,349.4 628.5,348.4 629.5,340.7 630.4,334.7 631.1,333.2 631.8,333.5 632.6,335.7 633.3,328.9 634.1,328.7 634.9,323.0 635.6,322.1 636.4,318.0 637.2,321.1 638.0,319.1 638.7,315.6 639.5,310.3 640.2,305.6 641.0,304.3 641.7,302.6 642.5,300.1 643.2,298.5 644.0,295.2 644.8,289.9 645.5,292.7 646.3,291.5 647.0,281.7 647.8,283.7 648.5,280.2 649.2,274.9 650.0,276.2 650.7,272.0 651.4,270.3 652.2,273.7 652.9,271.9 653.6,268.1 654.4,265.0 655.2,263.0 655.9,260.8 656.7,261.8 657.5,258.4 658.2,252.6 659.0,252.7 659.7,244.5 660.4,244.7 661.4,245.9 662.4,241.8 663.1,244.2 663.8,241.3 664.6,243.5 665.3,246.7 666.0,246.8 666.8,246.9 667.5,240.4 668.2,245.7 668.9,246.5 669.7,250.1 670.4,245.3 671.1,246.7 671.8,243.7 672.5,250.8 673.3,248.7 674.0,248.6 674.8,245.2 675.5,242.4 676.2,233.8 677.0,233.1 677.7,229.7 678.5,226.8 679.2,225.1 679.9,226.3 680.6,227.6 681.3,227.9 682.1,236.9 682.8,235.0 683.5,237.7 684.2,240.1 685.0,235.2 685.7,240.9 686.4,244.2 687.2,248.2 687.9,252.9 688.6,256.4 689.4,257.1 690.1,253.4 690.9,252.6 691.6,254.5 692.3,256.4 693.0,259.0 693.8,258.3 694.5,252.5 695.2,250.3 696.0,247.6 696.7,248.6 697.4,246.7 698.1,248.9 698.8,253.2 699.6,249.0 700.3,250.6 701.0,246.7 701.8,249.4 702.5,242.9 703.2,242.8 703.9,242.0 704.7,247.1 705.4,246.6 706.1,248.6 706.9,246.9 707.6,249.9 708.4,250.5 709.1,252.5 709.8,250.9 710.5,248.6 711.3,251.0 712.0,248.6 712.7,248.6 713.5,249.0 714.2,254.2 714.9,252.5 715.6,249.1 716.3,252.5 717.1,251.1 717.8,248.6 718.9,254.5 719.7,252.5 720.5,252.7 721.2,247.2 722.0,250.4 722.8,248.6 723.5,243.0 724.2,240.6 725.0,240.5 725.7,237.0 726.4,231.7 727.2,230.5 727.9,227.8 728.6,223.3 729.6,211.0 730.6,193.5 731.4,197.7 732.2,202.5 733.0,201.1 733.8,206.2 734.6,196.7 735.4,190.8 736.2,183.7 737.0,172.2 737.8,178.1 738.6,180.4 739.4,183.9 740.2,191.4 741.0,192.7 741.8,201.6 742.6,200.0 743.4,206.2 744.2,212.2 745.0,220.9 745.9,227.0 746.7,232.5 747.4,227.3 748.2,230.7 748.9,222.7 749.6,218.9 750.3,214.7 751.0,211.3 751.8,203.5 752.5,199.5 753.2,203.7 754.0,204.0 754.7,204.5 755.4,209.2 756.1,210.6 756.8,217.9 757.6,221.1 758.3,224.7 759.1,220.4 759.9,215.8 760.6,212.4 761.4,211.2 762.2,205.3 762.9,204.8 763.6,198.0 764.4,196.0 765.1,187.4 765.8,185.9 766.5,185.5 767.3,179.5 768.0,174.8 768.8,174.7 769.5,163.5 770.3,165.9 771.0,162.2 771.8,156.3 772.6,155.8 773.4,143.0 774.2,138.2 774.9,135.2 775.7,133.7 776.4,128.3 777.1,121.8 778.0,127.4 778.9,136.8 779.8,145.7 780.5,143.6 781.2,147.5 782.0,149.8 782.7,148.9 783.5,152.2 784.3,150.0 785.1,148.4 785.9,151.2 786.7,152.1 787.5,147.9 788.3,152.2 789.1,151.0 790.0,164.1 790.8,171.7 791.7,182.8 792.6,183.1 793.5,188.5 794.4,190.8 795.3,195.6 796.1,201.3 797.0,204.0 797.9,191.6 798.8,187.2 799.7,180.2 800.6,182.7 801.5,175.0"/>
<polyline stroke="#000" stroke-width="5.0" points="77.9,396.4 78.9,404.4 79.9,412.0 80.8,419.6 81.8,421.7 82.8,433.4 83.8,423.6 84.7,417.8 85.7,416.1 86.7,410.0 87.7,417.2 88.6,425.6 89.6,435.3 90.5,428.9 91.5,423.7 92.2,424.5 93.0,417.2 93.8,413.3 94.5,410.0 95.2,408.7 96.0,406.7 96.7,401.2 97.4,398.4 98.1,398.2 98.8,393.3 99.6,393.2 100.3,392.5 101.2,387.6 102.2,384.7 103.0,387.1 103.7,392.0 104.5,397.1 105.2,406.0 106.2,398.7 107.1,392.5 107.8,390.2 108.5,387.9 109.3,386.8 110.0,384.7 111.0,382.8 112.0,386.7 113.0,379.7 113.9,373.0 114.6,372.6 115.3,372.8 116.1,368.3 116.8,369.2 117.5,367.8 118.2,363.8 119.0,366.6 119.7,367.2 120.5,361.3 121.3,361.9 122.1,366.3 122.9,362.8 123.6,355.3 124.3,359.2 125.1,355.5 125.8,352.1 126.5,353.6 127.3,357.5 128.1,359.9 128.8,360.9 129.6,362.2 130.3,358.4 131.1,356.7 131.8,355.6 132.6,356.0 133.3,356.5 134.1,361.3 134.8,362.3 135.6,366.7 136.4,370.2 137.2,364.9 137.9,367.8 138.7,369.2 139.5,372.5 140.2,371.8 140.9,384.4 141.7,379.3 142.4,388.0 143.1,383.0 143.9,378.1 144.6,378.6 145.3,370.6 146.0,363.8 146.8,368.1 147.5,361.7 148.2,360.9 148.9,364.4 149.6,367.2 150.4,373.9 151.1,376.4 151.8,371.0 152.6,370.4 153.3,368.4 154.0,364.7 154.8,371.7 155.5,365.7 156.2,376.8 157.0,376.4 157.7,375.6 158.4,369.5 159.2,368.3 159.9,364.7 160.6,361.7 161.4,364.5 162.1,359.4 162.8,357.0 163.6,355.2 164.4,353.8 165.1,352.5 165.9,351.2 166.7,350.2 167.5,350.2 168.3,358.5 169.1,351.7 169.9,357.8 170.7,356.5 171.5,364.5 172.2,368.0 173.0,372.6 173.8,375.3 174.5,371.5 175.2,368.2 176.0,365.8 176.7,361.7 177.4,365.3 178.1,363.6 178.9,365.2 179.6,367.5 180.3,368.4 181.1,361.9 181.8,355.1 182.5,353.9 183.3,357.6 184.1,353.3 184.8,349.1 185.6,346.7 186.4,348.1 187.1,347.8 187.9,344.3 188.6,342.8 189.3,344.2 190.0,342.8 190.8,346.0 191.5,351.0 192.2,350.0 192.9,349.5 193.7,347.8 194.4,353.0 195.2,352.0 195.9,350.7 196.6,350.9 197.4,350.2 198.1,346.1 198.9,345.3 199.7,345.0 200.4,344.9 201.2,342.1 202.0,344.2 202.8,345.3 203.6,346.5 204.3,343.4 205.1,342.2 205.9,342.3 206.6,342.7 207.4,342.5 208.1,343.4 208.8,346.1 209.5,349.1 210.2,352.0 211.0,356.8 211.7,361.7 212.4,359.2 213.1,364.4 213.9,364.7 214.6,365.6 215.3,360.1 216.1,354.9 216.8,356.8 217.5,353.9 218.3,354.8 219.1,349.2 219.8,348.2 220.6,346.4 221.4,346.1 222.1,350.5 222.9,349.9 223.6,357.0 224.3,357.8 225.1,359.6 225.8,364.7 226.6,365.1 227.3,367.5 228.0,365.5 228.8,361.3 229.5,361.6 230.2,361.7 230.9,359.2 231.6,359.3 232.4,356.4 233.1,353.9 233.9,353.9 234.7,357.9 235.4,360.8 236.2,359.8 237.0,361.7 237.7,362.8 238.4,365.0 239.1,369.7 239.8,371.1 240.5,372.0 241.5,373.7 242.5,379.5 242.5,379.5 243.2,375.2 243.9,369.2 244.7,367.8 245.5,366.8 246.2,370.8 247.0,369.5 247.8,367.3 248.6,364.9 249.4,365.9 250.1,366.1 250.9,362.8 251.7,363.4 252.5,361.6 253.3,361.7 254.0,354.8 254.8,357.9 255.6,355.6 256.4,358.0 257.2,358.3 257.9,355.0 258.7,359.4 259.5,359.5 260.3,359.2 261.0,363.9 261.8,365.5 262.5,366.2 263.3,367.3 264.1,364.1 264.9,362.9 265.6,364.5 266.4,359.1 267.2,359.5 268.0,359.0 268.8,357.5 269.5,354.2 270.3,358.1 271.1,351.7 271.9,352.6 272.7,358.0 273.4,349.6 274.2,350.0 275.0,355.6 275.8,356.2 276.6,353.9 277.3,350.2 278.1,349.2 278.9,347.8 279.7,342.5 280.5,344.1 281.2,342.0 282.0,342.7 282.8,342.0 283.5,341.5 284.2,337.3 285.0,335.5 285.7,332.3 286.4,331.7 287.1,333.2 287.9,335.4 288.6,336.1 289.4,333.1 290.1,334.0 290.9,326.9 291.6,326.4 292.3,332.5 293.1,328.1 293.8,334.6 294.5,334.2 295.3,330.9 296.1,334.7 296.8,329.8 297.6,328.8 298.4,326.4 299.2,326.5 300.0,321.9 300.7,319.4 301.5,315.7 302.3,318.6 303.1,319.0 303.8,312.4 304.6,310.3 305.3,309.3 306.1,307.0 306.9,310.2 307.7,300.8 308.4,304.0 309.2,301.4 310.0,301.1 310.8,306.6 311.6,305.7 312.3,313.1 313.1,320.1 313.9,322.5 314.6,323.0 315.4,320.2 316.1,311.9 316.8,310.9 317.9,308.4 318.6,309.5 319.4,310.1 320.1,308.3 320.8,312.3 321.6,310.6 322.3,316.9 323.1,317.2 323.8,318.1 324.5,314.4 325.2,314.0 326.0,305.7 326.7,304.5 327.4,307.1 328.1,307.4 328.9,308.7 329.6,310.3 330.3,308.5 331.1,304.8 331.8,302.1 332.5,298.6 333.3,298.4 334.1,301.3 334.8,295.6 335.6,297.7 336.4,294.7 337.1,294.6 337.9,291.0 338.6,292.1 339.3,288.9 340.3,284.1 341.3,283.1 342.1,284.9 342.9,279.8 343.6,279.7 344.4,280.7 345.2,279.2 346.1,286.9 347.1,290.9 347.8,296.3 348.6,299.7 349.3,300.6 350.0,304.5 350.7,301.9 351.4,304.7 352.2,303.7 352.9,302.5 353.9,291.7 354.9,285.0 355.9,275.9 356.8,262.6 357.5,266.2 358.2,266.8 359.0,273.1 359.7,275.3 360.4,275.8 361.2,280.2 361.9,286.4 362.7,288.9 363.5,284.0 364.2,286.1 365.0,281.6 365.8,283.1 366.7,288.6 367.6,289.2 368.5,294.7 369.2,297.6 369.9,296.3 370.7,301.3 371.4,304.5 372.1,303.7 372.9,299.7 373.6,291.7 374.3,292.8 375.1,293.4 375.8,291.9 376.6,287.6 377.3,287.0 378.0,290.6 378.8,285.6 379.5,288.2 380.2,288.9 380.9,288.4 381.6,285.9 382.4,282.9 383.1,277.2 383.9,272.5 384.7,268.6 385.4,271.1 386.2,264.8 387.0,265.6 387.7,268.2 388.4,268.6 389.2,276.6 389.9,277.2 390.9,283.9 391.8,287.0 392.6,291.7 393.4,294.1 394.1,297.7 394.9,301.1 395.7,304.3 396.5,309.7 397.2,313.3 398.0,317.7 398.8,320.6 399.5,323.5 400.2,332.5 401.0,332.8 401.7,336.1 402.4,343.1 403.1,346.8 403.9,345.9 404.6,351.7 405.3,347.0 406.1,352.5 406.8,347.9 407.5,347.8 408.2,351.4 408.9,354.0 409.7,358.3 410.4,361.4 411.1,361.7 411.9,367.0 412.6,369.2 413.3,373.1 414.1,368.7 414.8,359.5 415.6,361.8 416.3,355.6 417.0,353.9 417.8,347.0 418.5,346.7 419.2,345.9 420.0,345.2 420.8,345.7 421.5,343.6 422.3,345.8 423.1,342.0 423.9,341.6 424.7,339.0 425.4,339.3 426.2,342.0 427.0,340.0 427.8,337.5 428.6,339.5 429.3,338.8 430.1,336.7 430.9,334.2 431.7,336.1 432.4,333.1 433.2,333.0 433.9,331.4 434.7,332.3 435.5,329.4 436.3,325.7 437.0,326.4 437.8,323.7 438.6,324.5 439.4,318.2 440.2,318.6 440.9,316.1 441.7,311.3 442.5,308.9 443.2,311.4 443.9,310.0 444.7,309.8 445.4,307.0 446.1,304.2 446.9,300.8 447.6,303.8 448.4,301.1 449.1,304.2 449.9,307.6 450.6,309.4 451.3,310.9 452.0,314.1 452.8,311.2 453.5,313.8 454.2,312.8 454.9,310.4 455.6,307.0 456.4,310.4 457.1,310.9 458.1,322.9 459.1,328.4 459.8,328.6 460.6,338.4 461.3,338.5 462.0,343.9 462.7,344.0 463.4,345.9 464.2,347.3 464.9,347.8 465.6,340.2 466.4,337.2 467.1,332.5 467.9,326.1 468.6,328.9 469.4,326.4 470.1,332.4 470.8,330.0 471.6,331.8 472.3,330.0 473.1,319.8 473.8,320.3 474.5,324.1 475.2,323.0 476.0,331.3 476.7,333.9 477.4,333.7 478.1,328.5 478.9,326.1 479.6,328.1 480.3,333.9 481.1,340.2 481.8,342.4 482.5,349.5 483.5,340.2 484.5,332.0 485.3,329.1 486.0,334.3 486.8,338.1 487.5,340.1 488.3,341.7 489.1,343.2 489.8,335.3 490.6,331.0 491.3,333.9 492.0,329.1 492.8,320.9 493.5,317.1 494.2,310.6 495.1,324.8 496.1,335.9 496.8,339.6 497.6,343.9 498.3,346.2 499.0,345.6 499.8,341.2 500.6,343.9 501.3,347.7 502.1,341.6 502.9,341.7 503.7,342.3 504.5,338.5 505.2,336.1 506.0,338.9 506.8,333.9 507.6,335.8 508.4,332.6 509.1,334.8 509.9,329.5 510.7,332.0 511.4,328.9 512.1,331.0 512.9,327.7 513.6,326.1 514.4,324.5 515.2,328.6 515.9,329.2 516.7,332.0 517.5,330.0 518.2,329.7 519.0,324.5 519.7,321.7 520.4,320.3 521.1,319.0 521.9,317.8 522.6,320.6 523.4,316.4 524.2,318.7 525.0,317.1 525.7,313.8 526.5,311.2 527.3,310.6 528.0,315.5 528.8,315.6 529.5,319.8 530.2,322.2 530.9,320.0 531.7,324.2 532.4,329.8 533.1,328.1 533.8,331.2 534.5,335.5 535.3,343.8 536.0,349.5 536.7,354.6 537.5,355.6 538.2,353.1 538.9,355.3 539.6,351.8 540.3,350.2 541.1,346.0 541.8,345.6 542.8,351.4 543.8,357.0 544.6,362.8 545.4,370.0 546.5,400.0 547.2,400.6 548.0,406.4 548.7,411.0 549.5,413.5 550.2,416.8 551.0,425.1 551.7,427.0 552.5,457.2 553.3,479.0 554.1,452.7 554.9,427.6 555.6,432.1 556.3,439.7 557.1,443.5 557.8,447.8 558.5,455.0 559.2,482.1 559.9,500.7 560.6,527.0 561.5,527.0 562.2,504.4 563.0,485.0 564.0,471.0 565.0,460.0 565.8,444.1 566.5,432.0 567.3,426.8 568.2,423.9 569.0,418.0 569.8,418.7 570.5,414.5 571.2,410.6 572.0,408.0 572.8,401.7 573.5,400.9 574.2,395.4 575.0,394.0 575.8,392.8 576.6,394.2 577.4,391.5 578.1,389.6 578.9,387.4 579.7,388.1 580.5,388.1 581.3,388.3 582.0,386.1 582.8,387.0 583.6,388.1 584.4,389.3 585.2,382.9 585.9,384.8 586.7,382.4 587.5,384.2 588.3,388.0 589.1,386.3 589.8,386.5 590.6,386.6 591.4,386.1 592.1,385.8 592.9,384.8 593.6,379.8 594.4,382.3 595.2,382.2 596.0,381.0 596.8,381.8 597.6,376.9 598.4,381.3 599.2,380.5 600.0,378.5 600.8,377.3 601.5,381.7 602.3,384.9 603.1,391.4 603.9,399.3 604.7,393.9 605.5,391.6 606.3,386.5 607.1,386.7 607.9,392.0 608.7,396.0 609.5,398.5 610.3,396.1 611.1,390.6 611.9,386.5 612.6,386.3 613.3,388.6 614.0,383.0 614.7,389.8 615.4,387.3 616.1,385.5 616.8,387.7 617.5,388.9 618.3,390.2 619.0,395.0 619.8,404.8 620.6,399.7 621.4,394.3 622.2,393.3 623.0,387.3 623.8,382.8 624.6,379.3 625.4,377.5 626.2,377.0 627.0,378.0 627.8,371.4 628.6,371.1 629.4,369.4 630.2,368.3 631.0,367.7 631.8,369.8 632.6,368.7 633.4,369.2 634.2,370.1 635.0,369.3 635.8,366.0 636.6,365.8 637.5,363.0 638.4,361.9 639.2,363.0 639.9,354.0 640.7,352.5 641.4,351.5 642.1,346.4 642.8,344.7 643.5,345.3 644.3,340.5 645.0,342.5 645.8,345.3 646.6,344.7 647.3,344.9 648.1,346.5 648.9,346.4 649.6,336.7 650.3,335.5 651.1,329.9 651.8,327.0 652.6,329.4 653.4,323.5 654.1,321.2 654.9,322.6 655.7,319.2 656.4,312.5 657.2,313.6 657.9,304.5 658.6,301.7 659.4,301.6 660.1,299.7 660.9,303.5 661.6,301.7 662.3,303.7 663.0,316.8 663.8,320.3 664.5,328.9 665.3,327.8 666.1,324.0 666.8,325.9 667.6,324.7 668.4,323.1 669.2,322.1 670.0,319.1 670.7,317.5 671.5,315.9 672.3,311.4 673.1,309.0 673.8,305.7 674.6,303.9 675.3,306.7 676.1,303.6 676.9,303.2 677.7,306.7 678.4,304.9 679.2,303.0 680.0,305.6 680.8,309.5 681.5,313.7 682.2,311.0 683.0,313.3 684.0,303.5 684.9,297.8 685.6,294.5 686.3,296.9 687.1,292.2 687.8,292.0 688.5,287.6 689.2,286.4 689.9,281.4 690.6,277.8 691.4,276.5 692.2,273.5 692.9,271.7 693.7,271.9 694.5,270.0 695.2,270.3 696.0,271.3 696.7,268.9 697.4,270.0 698.1,277.6 698.8,284.7 699.6,290.7 700.3,297.3 701.0,292.7 701.8,287.8 702.5,280.2 703.2,273.9 703.9,278.4 704.7,280.5 705.4,287.7 706.1,291.4 706.9,289.7 707.6,287.8 708.4,285.2 709.1,285.6 710.0,298.6 711.0,309.0 711.7,309.4 712.5,301.2 713.2,296.0 713.9,291.4 714.6,290.9 715.3,287.2 716.1,287.3 716.8,285.6 717.6,280.6 718.4,277.2 719.2,275.6 720.0,272.1 720.8,268.1 721.5,265.4 722.3,261.5 723.0,261.4 723.8,258.4 724.5,253.1 725.2,254.2 726.0,248.9 726.7,246.7 727.5,244.4 728.3,243.7 729.0,240.9 729.8,234.5 730.6,235.0 731.3,239.3 732.0,245.6 732.8,247.2 733.5,254.5 734.2,250.6 735.0,256.3 735.7,257.3 736.4,258.4 737.1,262.7 737.8,265.4 738.6,268.9 739.3,272.0 740.0,279.8 740.8,289.6 741.5,295.0 742.2,301.2 743.0,297.0 743.9,289.5 744.7,285.0 745.5,289.0 746.3,287.6 747.1,289.5 747.9,287.2 748.7,277.1 749.5,278.3 750.4,273.7 751.2,269.0 752.0,266.1 752.7,264.6 753.5,258.2 754.2,252.7 754.9,248.6 755.6,242.6 756.3,243.0 757.1,235.7 757.8,229.2 758.5,226.5 759.3,219.2 760.0,219.5 760.8,212.5 761.6,211.4 762.5,207.3 763.4,205.4 764.2,203.3 765.0,198.6 765.7,202.5 766.5,200.0 767.2,190.1 768.0,185.0 768.8,164.4 769.5,140.0 770.5,122.0 771.5,106.0 772.5,150.0 773.3,205.0 774.5,160.0 775.5,140.0 776.2,133.6 777.0,130.0 778.0,175.0 779.3,195.0 780.5,170.0 781.5,195.0 782.4,207.0 783.3,175.0 784.5,160.0 785.2,159.8 786.0,158.0 787.0,185.0 788.2,175.0 789.2,190.0 790.4,180.0 791.5,150.0 792.2,145.5 793.0,140.0 793.8,136.0 794.5,137.0 795.2,133.3 796.0,130.0 796.8,128.8 797.5,125.0 798.2,120.4 799.0,117.0 799.8,112.0 800.5,113.0"/>
</g>
</svg>
</body></html>
